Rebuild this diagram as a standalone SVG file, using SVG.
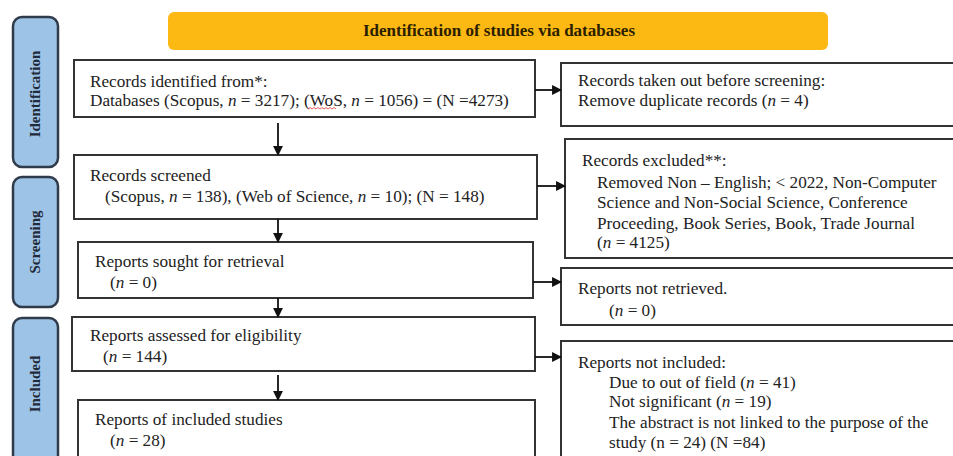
<svg xmlns="http://www.w3.org/2000/svg" width="953" height="456" viewBox="0 0 953 456">
<style>
.bx{fill:#fff;stroke:#333;stroke-width:2}
.side{fill:#9dc3e6;stroke:#2f3a4a;stroke-width:2.5}
.t{font-family:"Liberation Serif",serif;font-size:17.2px;fill:#222}
.sl{font-family:"Liberation Serif",serif;font-size:15px;font-weight:bold;fill:#1f2a3a}
.hd{font-family:"Liberation Serif",serif;font-size:17px;font-weight:bold;fill:#2a2000}
.c{stroke:#111;stroke-width:1.8;fill:none;marker-end:url(#ah)}
</style>
<defs>
<marker id="ah" viewBox="0 0 10 10" refX="9" refY="5" markerWidth="5.5" markerHeight="5.5" orient="auto" markerUnits="strokeWidth">
<path d="M0,0 L10,5 L0,10 z" fill="#111"/>
</marker>
</defs>
<rect width="953" height="456" fill="#fff"/>
<g id="header">
<rect x="168" y="12" width="660" height="38" rx="6" fill="#fdb913"/>
<text class="hd" x="499" y="36" text-anchor="middle">Identification of studies via databases</text>
</g>
<g id="side-identification">
<rect class="side" x="13" y="17" width="45" height="150" rx="9"/>
<text class="sl" transform="translate(40,94) rotate(-90)" text-anchor="middle">Identification</text>
</g>
<g id="side-screening">
<rect class="side" x="13" y="177" width="45" height="130" rx="9"/>
<text class="sl" transform="translate(40,242) rotate(-90)" text-anchor="middle">Screening</text>
</g>
<g id="side-included">
<rect class="side" x="13" y="318" width="45" height="150" rx="9"/>
<text class="sl" transform="translate(40,384) rotate(-90)" text-anchor="middle">Included</text>
</g>
<g id="identified">
<rect class="bx" x="74" y="60" width="461" height="57"/>
<text class="t" x="90" y="87">Records identified from*:</text>
<text class="t" x="90" y="106">Databases (Scopus, <tspan font-style="italic">n</tspan> = 3217); (WoS, <tspan font-style="italic">n</tspan> = 1056) = (N =4273)</text>
<path d="M308 109 l2 -1.5 l2 1.5 l2 -1.5 l2 1.5 l2 -1.5 l2 1.5 l2 -1.5 l2 1.5 l2 -1.5 l2 1.5 l2 -1.5 l2 1.5 l2 -1.5 l2 1.5" stroke="#d33" stroke-width="0.8" fill="none"/>
</g>
<g id="screened">
<rect class="bx" x="74" y="155" width="463" height="64"/>
<text class="t" x="90" y="181">Records screened</text>
<text class="t" x="105" y="202">(Scopus, <tspan font-style="italic">n</tspan> = 138), (Web of Science, <tspan font-style="italic">n</tspan> = 10); (N = 148)</text>
</g>
<g id="sought">
<rect class="bx" x="78" y="242" width="455" height="56"/>
<text class="t" x="95" y="267">Reports sought for retrieval</text>
<text class="t" x="110" y="288">(<tspan font-style="italic">n</tspan> = 0)</text>
</g>
<g id="assessed">
<rect class="bx" x="72" y="317" width="463" height="54"/>
<text class="t" x="90" y="341">Reports assessed for eligibility</text>
<text class="t" x="103" y="362">(<tspan font-style="italic">n</tspan> = 144)</text>
</g>
<g id="included">
<rect class="bx" x="78" y="400" width="457" height="70"/>
<text class="t" x="95" y="425">Reports of included studies</text>
<text class="t" x="110" y="446">(<tspan font-style="italic">n</tspan> = 28)</text>
</g>
<g id="removed">
<rect class="bx" x="561" y="63" width="400" height="63"/>
<text class="t" x="578" y="86">Records taken out before screening:</text>
<text class="t" x="578" y="106">Remove duplicate records (<tspan font-style="italic">n</tspan> = 4)</text>
</g>
<g id="excluded">
<rect class="bx" x="565" y="139" width="396" height="119"/>
<text class="t" x="582" y="166">Records excluded**:</text>
<text class="t" x="597" y="188">Removed Non – English; &lt; 2022, Non-Computer</text>
<text class="t" x="597" y="208">Science and Non-Social Science, Conference</text>
<text class="t" x="597" y="229">Proceeding, Book Series, Book, Trade Journal</text>
<text class="t" x="597" y="248">(<tspan font-style="italic">n</tspan> = 4125)</text>
</g>
<g id="not-retrieved">
<rect class="bx" x="561" y="268" width="400" height="57"/>
<text class="t" x="578" y="294">Reports not retrieved.</text>
<text class="t" x="609" y="316">(<tspan font-style="italic">n</tspan> = 0)</text>
</g>
<g id="not-included">
<rect class="bx" x="561" y="341" width="400" height="130"/>
<text class="t" x="578" y="368">Reports not included:</text>
<text class="t" x="609" y="388">Due to out of field (<tspan font-style="italic">n</tspan> = 41)</text>
<text class="t" x="609" y="407">Not significant (<tspan font-style="italic">n</tspan> = 19)</text>
<text class="t" x="609" y="428">The abstract is not linked to the purpose of the</text>
<text class="t" x="609" y="448">study (n = 24) (N =84)</text>
</g>
<g id="connectors">
<path class="c" d="M278 123 V155"/>
<path class="c" d="M278 219 V242"/>
<path class="c" d="M278 298 V317"/>
<path class="c" d="M278 375 V400"/>
<path class="c" d="M535 90 H561"/>
<path class="c" d="M537 186 H565"/>
<path class="c" d="M533 282 H561"/>
<path class="c" d="M535 357 H561"/>
</g>
</svg>
